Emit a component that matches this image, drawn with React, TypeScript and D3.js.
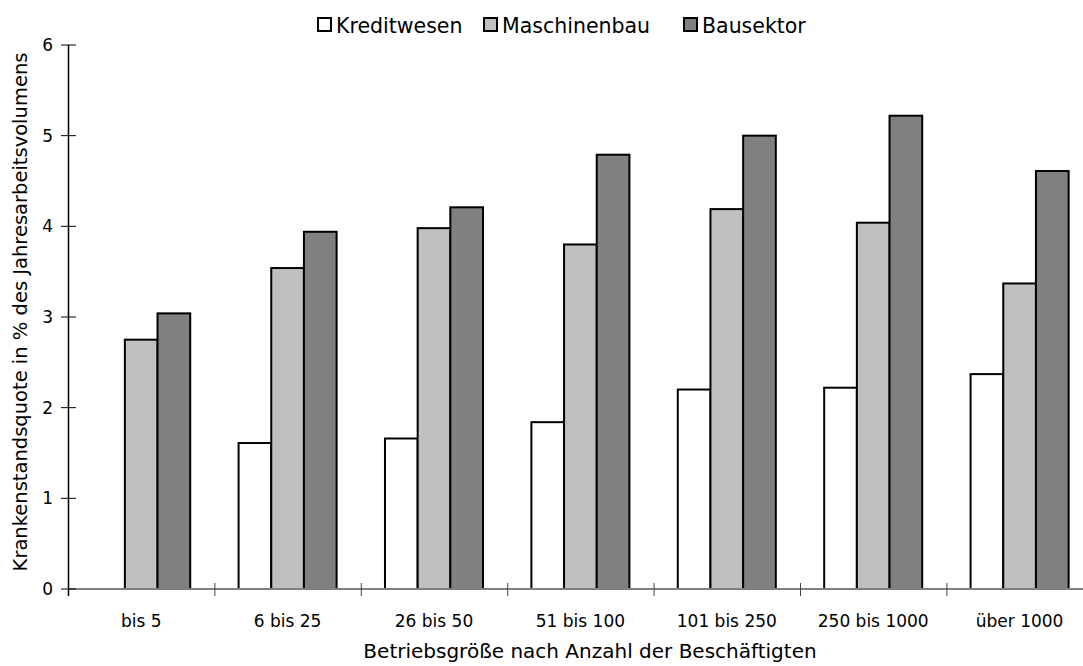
import React from "react";
import * as d3 from "d3";

// Betriebsgrößenklassen (x-axis categories)
const categories = [
  "bis 5",
  "6 bis 25",
  "26 bis 50",
  "51 bis 100",
  "101 bis 250",
  "250 bis 1000",
  "über 1000",
];

// Krankenstandsquote je Branche (null = kein Wert)
const kreditwesen: (number | null)[] = [null, 1.61, 1.66, 1.84, 2.2, 2.22, 2.37];
const maschinenbau: number[] = [2.75, 3.54, 3.98, 3.8, 4.19, 4.04, 3.37];
const bausektor: number[] = [3.04, 3.94, 4.21, 4.79, 5.0, 5.22, 4.61];

const seriesNames = ["Kreditwesen", "Maschinenbau", "Bausektor"];
const seriesColors = ["#ffffff", "#c0c0c0", "#808080"];
const yTicks = [0, 1, 2, 3, 4, 5, 6];

const FONT = "'DejaVu Sans', sans-serif";

export default function App() {
  const width = 1083;
  const height = 666;
  const x0 = 68;
  const bandW = 146.4;
  const yTop = 45;
  const yBottom = 589;

  const x = d3
    .scaleBand<string>()
    .domain(categories)
    .range([x0, x0 + bandW * categories.length])
    .paddingInner(0)
    .paddingOuter(0);

  // three bars per group, centred in the category band
  const inner = d3
    .scaleBand<string>()
    .domain(seriesNames)
    .range([0, x.bandwidth()])
    .paddingOuter(0.74)
    .paddingInner(0);

  const y = d3.scaleLinear().domain([0, 6]).range([yBottom, yTop]);

  const series = [kreditwesen, maschinenbau, bausektor];

  const legendX = [317, 483, 683];

  return (
    <svg
      width={width}
      height={height}
      style={{ position: "absolute", left: 0, top: 0, background: "#fff" }}
      fontFamily={FONT}
    >
      <rect x={0} y={0} width={width} height={height} fill="#fff" />

      {/* legend */}
      {seriesNames.map((name, i) => (
        <g key={name}>
          <rect
            x={legendX[i] + 1}
            y={18}
            width={13}
            height={13}
            fill={seriesColors[i]}
            stroke="#000"
            strokeWidth={2}
          />
          <text x={legendX[i] + 19} y={33} fontSize={20.5} fill="#000">
            {name}
          </text>
        </g>
      ))}

      {/* bars */}
      {categories.map((cat, ci) => (
        <g key={cat} transform={`translate(${x(cat)},0)`}>
          {series.map((s, si) => {
            const v = s[ci];
            if (v == null) return null;
            const bx = inner(seriesNames[si]) as number;
            return (
              <rect
                key={si}
                x={bx}
                y={y(v)}
                width={inner.bandwidth()}
                height={y(0) - y(v)}
                fill={seriesColors[si]}
                stroke="#000"
                strokeWidth={2}
              />
            );
          })}
        </g>
      ))}

      {/* x axis */}
      <line
        x1={x0}
        x2={x0 + bandW * categories.length}
        y1={y(0)}
        y2={y(0)}
        stroke="#808080"
        strokeWidth={2}
      />
      {categories.map((cat) => (
        <line
          key={"t" + cat}
          x1={(x(cat) as number) + 0.5}
          x2={(x(cat) as number) + 0.5}
          y1={y(0) - 6}
          y2={y(0) + 7}
          stroke="#404040"
          strokeWidth={1}
        />
      ))}
      {categories.map((cat) => (
        <text
          key={"l" + cat}
          x={(x(cat) as number) + x.bandwidth() / 2}
          y={627}
          fontSize={17}
          textAnchor="middle"
          fill="#000"
        >
          {cat}
        </text>
      ))}

      {/* y axis */}
      <line x1={x0 + 0.5} x2={x0 + 0.5} y1={yTop} y2={y(0) + 7} stroke="#000" strokeWidth={1.5} />
      {yTicks.map((t) => (
        <g key={"y" + t}>
          <line x1={x0 - 7} x2={x0 + 8} y1={y(t)} y2={y(t)} stroke="#000" strokeWidth={1} />
          <text x={53} y={y(t)} dy="0.36em" fontSize={17} textAnchor="end" fill="#000">
            {t}
          </text>
        </g>
      ))}

      {/* axis titles */}
      <text x={590} y={658} fontSize={20} textAnchor="middle" fill="#000">
        Betriebsgröße nach Anzahl der Beschäftigten
      </text>
      <text
        transform={`translate(27,${(yTop + yBottom) / 2 - 5}) rotate(-90)`}
        fontSize={19.5}
        textAnchor="middle"
        fill="#000"
      >
        Krankenstandsquote in % des Jahresarbeitsvolumens
      </text>
    </svg>
  );
}
